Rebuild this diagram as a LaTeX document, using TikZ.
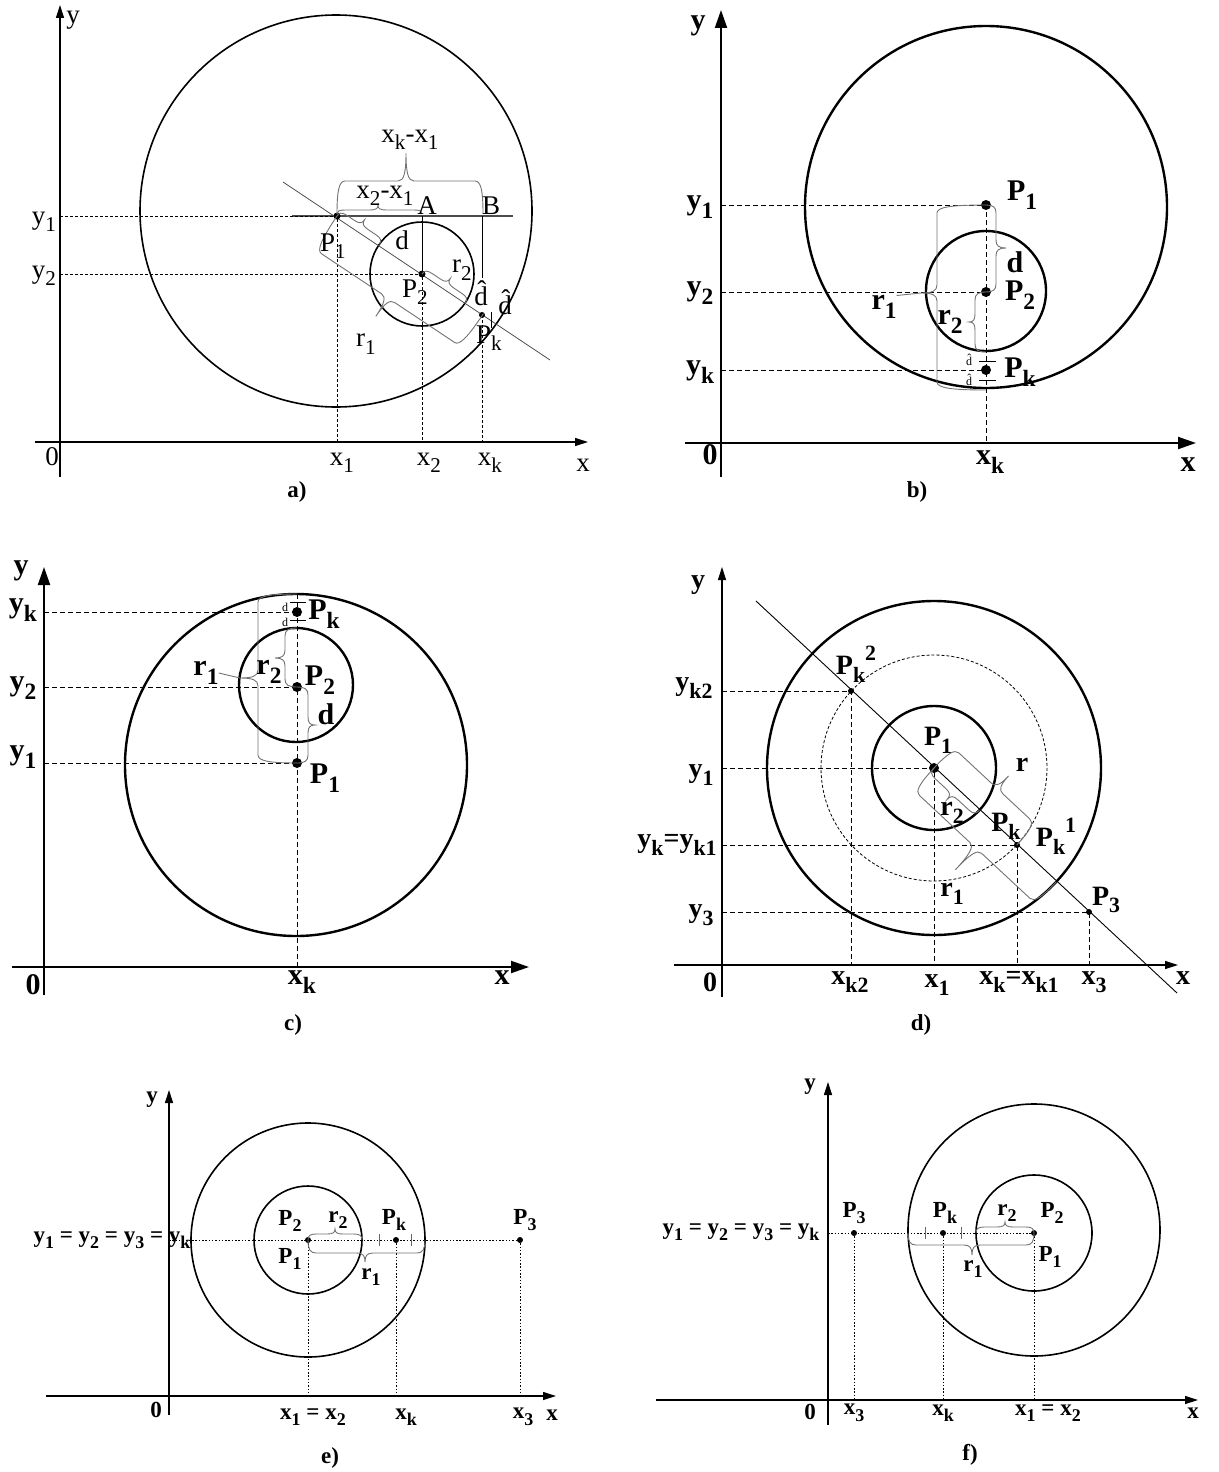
\documentclass[tikz,border=0pt]{standalone}
\usepackage{fontspec}
\setmainfont{Liberation Serif}
\usepackage{graphicx}
\usetikzlibrary{arrows.meta}

\newcommand{\lo}[1]{\raisebox{-0.28em}{\scalebox{0.78}{#1}}}
\newcommand{\hi}[1]{\raisebox{0.5em}{\scalebox{0.78}{#1}}}
% brace: length, tip position, side offset, tip offset
\newcommand{\brc}[4]{%
  \draw[brline] (0,0) .. controls (0,{0.7*(#3)}) and (2,#3) .. (8,#3)
    -- ({#2-8},#3) .. controls ({#2-2},#3) and (#2,{(#3)+0.3*((#4)-(#3))}) .. (#2,#4)
    .. controls (#2,{(#3)+0.3*((#4)-(#3))}) and ({#2+2},#3) .. ({#2+8},#3)
    -- ({#1-8},#3) .. controls ({#1-2},#3) and (#1,{0.7*(#3)}) .. (#1,0);}

\begin{document}
\begin{tikzpicture}[x=1pt, y=-1pt,
    axisline/.style={line width=1.2pt, -{Triangle[length=13pt, width=8pt]}},
    axisb/.style={line width=2pt, -{Triangle[length=18pt, width=12pt]}},
    guide/.style={line width=0.7pt, dash pattern=on 3pt off 2pt},
    guideb/.style={line width=1pt, dash pattern=on 5pt off 3pt},
    guidee/.style={line width=0.8pt, dash pattern=on 1.5pt off 1.8pt},
    ring/.style={line width=2.4pt},
    ringa/.style={line width=1.6pt},
    tickmark/.style={line width=0.9pt},
    brline/.style={draw=black!55, line width=0.9pt},
    lab/.style={inner sep=0pt, font=\fontsize{30}{32}\selectfont\bfseries},
    labd/.style={inner sep=0pt, font=\fontsize{28}{30}\selectfont\bfseries},
    laba/.style={inner sep=0pt, font=\fontsize{27}{29}\selectfont},
    labe/.style={inner sep=0pt, font=\fontsize{23}{25}\selectfont\bfseries},
    smalltxt/.style={inner sep=0pt, font=\fontsize{12}{13}\selectfont},
    panelcap/.style={inner sep=0pt, font=\fontsize{23}{25}\selectfont\bfseries}
  ]
\useasboundingbox (0,0) rectangle (1218,1472);

% a)
\coordinate (aP1) at (337,216);
\coordinate (aP2) at (422,274);
\coordinate (aPk) at (482,315);
\draw[ringa] (336,211) circle (196);
\draw[ringa] (aP2) circle (52);
\draw[axisline] (60,477) -- (60,5);
\draw[axisline] (35,442) -- (588,442);
\draw[line width=0.8pt, black!70] (283,182) -- (550,360);
\draw[line width=1.1pt, black!70] (292,216) -- (513,216);
\draw[line width=0.9pt] (422,216) -- (aP2);
\draw[line width=0.9pt] (482,216) -- (482,278);
\draw[guide] (60,216) -- (aP1) -- (337,442);
\draw[guide] (60,274) -- (aP2) -- (422,442);
\draw[guide] (aPk) -- (482,442);
\draw[tickmark] (491,312) -- (491,328);
\fill (aP1) circle (3.5);
\fill (aP2) circle (3.5);
\fill (aPk) circle (3);
\begin{scope}[shift={(337,214)}]
  \brc{146}{69}{-33}{-61}
  \brc{85}{41}{-4}{-9}
\end{scope}
\begin{scope}[shift={(aP1)}, rotate=-33.7]
  \brc{51}{25}{-6}{-12}
  \brc{176}{88}{40}{62}
\end{scope}
\begin{scope}[shift={(aP2)}, rotate=-33.7]
  \brc{52}{26}{-6}{-12}
\end{scope}
\node[laba] (a-y) at (73,20) {y};
\node[laba] (a-x) at (583,465) {x};
\node[laba] (a-0) at (52,457) {0};
\node[laba] (a-y1) at (44,222) {y\lo{1}};
\node[laba] (a-y2) at (44,276) {y\lo{2}};
\node[laba] (a-x1) at (342,463) {x\lo{1}};
\node[laba] (a-x2) at (429,463) {x\lo{2}};
\node[laba] (a-xk) at (490,463) {x\lo{k}};
\node[laba] (a-xkx1) at (410,140) {x\lo{k}-x\lo{1}};
\node[laba] (a-x2x1) at (385,196) {x\lo{2}-x\lo{1}};
\node[laba] (a-A) at (427,206) {A};
\node[laba] (a-B) at (491,206) {B};
\node[laba] (a-P1) at (333,246) {P\lo{1}};
\node[laba] (a-d) at (402,240) {d};
\node[laba] (a-r2) at (462,270) {r\lo{2}};
\node[laba] (a-P2) at (415,292) {P\lo{2}};
\node[laba] (a-dh1) at (481,293) {\^{d}};
\node[laba] (a-dh2) at (505,302) {\^{d}};
\node[laba] (a-Pk) at (489,338) {P\lo{k}};
\node[laba] (a-r1) at (366,344) {r\lo{1}};
\node[panelcap] (a-cap) at (297,492) {a)};

% b)
\coordinate (bP1) at (986,205);
\coordinate (bP2) at (986,292);
\coordinate (bPk) at (986,370);
\coordinate (b-r1tip) at (921,293);
\draw[ring] (986,207) circle (181);
\draw[ring] (986,291) circle (60);
\draw[axisb] (721,477) -- (721,10);
\draw[axisb] (685,443) -- (1196,443);
\draw[guideb] (721,205) -- (bP1) -- (986,443);
\draw[guideb] (721,292) -- (bP2);
\draw[guideb] (721,370) -- (bPk);
\draw[tickmark] (979,361) -- (996,361);
\draw[tickmark] (979,380) -- (996,380);
\fill (bP1) circle (5);
\fill (bP2) circle (5);
\fill (bPk) circle (5);
\begin{scope}[shift={(bP1)}, rotate=-90]
  \brc{185}{88}{49}{65}
  \brc{87}{43}{-10}{-20}
\end{scope}
\begin{scope}[shift={(bP2)}, rotate=-90]
  \brc{60}{30}{11}{17}
\end{scope}
\node[lab] (b-y) at (698,26) {y};
\node[lab] (b-x) at (1188,465) {x};
\node[lab] (b-0) at (710,455) {0};
\node[lab] (b-y1) at (700,207) {y\lo{1}};
\node[lab] (b-y2) at (700,293) {y\lo{2}};
\node[lab] (b-yk) at (700,372) {y\lo{k}};
\node[lab] (b-xk) at (990,462) {x\lo{k}};
\node[lab] (b-P1) at (1022,195) {P\lo{1}};
\node[lab] (b-P2) at (1020,295) {P\lo{2}};
\node[lab] (b-Pk) at (1020,372) {P\lo{k}};
\node[lab] (b-d) at (1015,262) {d};
\node[lab] (b-r1) at (884,307) {r\lo{1}};
\node[lab] (b-r2) at (950,322) {r\lo{2}};
\node[smalltxt] (b-dh1) at (969,360) {\^{d}};
\node[smalltxt] (b-dh2) at (969,380) {\^{d}};
\draw[brline] (b-r1.north east) -- (b-r1tip);
\node[panelcap] (b-cap) at (917,492) {b)};

% c)
\coordinate (cP1) at (297,763);
\coordinate (cP2) at (297,687);
\coordinate (cPk) at (297,612);
\coordinate (c-r1tip) at (240,678);
\draw[ring] (296,765) circle (171);
\draw[ring] (296,685) circle (57);
\draw[axisb] (44,995) -- (44,567);
\draw[axisb] (12,967) -- (529,967);
\draw[guideb] (44,612) -- (cPk);
\draw[guideb] (44,687) -- (cP2);
\draw[guideb] (44,763) -- (cP1);
\draw[guideb] (297,594) -- (297,967);
\draw[tickmark] (290,602) -- (306,602);
\draw[tickmark] (290,620) -- (306,620);
\fill (cP1) circle (5);
\fill (cP2) circle (5);
\fill (cPk) circle (5);
\begin{scope}[shift={(297,594)}, rotate=-90]
  \brc{169}{84}{39}{57}
\end{scope}
\begin{scope}[shift={(297,628)}, rotate=-90]
  \brc{59}{30}{12}{22}
\end{scope}
\begin{scope}[shift={(cP2)}, rotate=-90]
  \brc{76}{38}{-11}{-18}
\end{scope}
\node[lab] (c-y) at (21,571) {y};
\node[lab] (c-x) at (502,978) {x};
\node[lab] (c-0) at (33,985) {0};
\node[lab] (c-yk) at (23,610) {y\lo{k}};
\node[lab] (c-y2) at (23,688) {y\lo{2}};
\node[lab] (c-y1) at (23,757) {y\lo{1}};
\node[lab] (c-xk) at (302,982) {x\lo{k}};
\node[lab] (c-Pk) at (324,614) {P\lo{k}};
\node[lab] (c-P2) at (320,680) {P\lo{2}};
\node[lab] (c-P1) at (325,778) {P\lo{1}};
\node[lab] (c-d) at (326,714) {d};
\node[lab] (c-r1) at (206,673) {r\lo{1}};
\node[lab] (c-r2) at (269,672) {r\lo{2}};
\node[smalltxt] (c-d1) at (285,607) {d};
\node[smalltxt] (c-d2) at (285,622) {d};
\draw[brline] (c-r1.east) -- (c-r1tip);
\node[panelcap] (c-cap) at (293,1025) {c)};

% d)
\coordinate (dP1) at (934,768);
\coordinate (dPk2) at (851,691);
\coordinate (dPk) at (1017,845);
\coordinate (dP3) at (1089,912);
\draw[ring] (dP1) circle (167);
\draw[ring] (dP1) circle (62);
\draw[line width=0.8pt, dash pattern=on 3pt off 2pt] (dP1) circle (113);
\draw[axisline] (722,997) -- (722,567);
\draw[axisline] (674,965) -- (1178,965);
\draw[line width=0.9pt] (756,601) -- (1177,993);
\draw[guideb] (722,691) -- (dPk2) -- (851,965);
\draw[guideb] (722,768) -- (dP1) -- (934,965);
\draw[guideb] (722,845) -- (dPk) -- (1017,965);
\draw[guideb] (722,912) -- (dP3) -- (1089,965);
\fill (dP1) circle (5);
\fill (dPk2) circle (3);
\fill (dPk) circle (3);
\fill (dP3) circle (3);
\begin{scope}[shift={(dP1)}, rotate=-42.96]
  \brc{167}{85}{30}{60}
  \brc{62}{31}{7}{14}
  \brc{113}{60}{-28}{-45}
\end{scope}
\node[labd] (d-y) at (698,585) {y};
\node[labd] (d-yk2) at (694,688) {y\lo{k2}};
\node[labd] (d-y1) at (701,775) {y\lo{1}};
\node[labd] (d-yk) at (677,845) {y\lo{k}=y\lo{k1}};
\node[labd] (d-y3) at (701,915) {y\lo{3}};
\node[labd] (d-0) at (710,982) {0};
\node[labd] (d-xk2) at (850,982) {x\lo{k2}};
\node[labd] (d-x1) at (937,985) {x\lo{1}};
\node[labd] (d-xk) at (1019,982) {x\lo{k}=x\lo{k1}};
\node[labd] (d-x3) at (1094,982) {x\lo{3}};
\node[labd] (d-x) at (1183,978) {x};
\node[labd] (d-Pk2) at (856,664) {P\lo{k}\hi{2}};
\node[labd] (d-P1) at (938,740) {P\lo{1}};
\node[labd] (d-r) at (1022,765) {r};
\node[labd] (d-r2) at (952,813) {r\lo{2}};
\node[labd] (d-Pk) at (1006,826) {P\lo{k}};
\node[labd] (d-Pk1) at (1056,836) {P\lo{k}\hi{1}};
\node[labd] (d-r1) at (952,894) {r\lo{1}};
\node[labd] (d-P3) at (1106,900) {P\lo{3}};
\node[panelcap] (d-cap) at (921,1025) {d)};

% e)
\coordinate (eP1) at (308,1240);
\coordinate (ePk) at (396,1240);
\coordinate (eP3) at (520,1240);
\draw[ringa] (eP1) circle (117);
\draw[ringa] (eP1) circle (54);
\draw[axisline] (169,1415) -- (169,1090);
\draw[axisline] (46,1396) -- (556,1396);
\draw[guidee] (169,1240) -- (eP3);
\draw[guidee] (eP1) -- (308,1396);
\draw[guidee] (ePk) -- (396,1396);
\draw[guidee] (eP3) -- (520,1396);
\draw[tickmark, black!60] (379,1234) -- (379,1246);
\draw[tickmark, black!60] (411,1234) -- (411,1246);
\fill (eP1) circle (3);
\fill (ePk) circle (3);
\fill (eP3) circle (3);
\begin{scope}[shift={(eP1)}]
  \brc{54}{27}{-6}{-11}
  \brc{117}{57}{13}{22}
\end{scope}
\node[labe] (e-yyy) at (112,1240) {y\lo{1} = y\lo{2} = y\lo{3} = y\lo{k}};
\node[labe] (e-P2) at (290,1221) {P\lo{2}};
\node[labe] (e-r2) at (338,1220) {r\lo{2}};
\node[labe] (e-Pk) at (394,1220) {P\lo{k}};
\node[labe] (e-P3) at (525,1220) {P\lo{3}};
\node[labe] (e-P1) at (290,1259) {P\lo{1}};
\node[labe] (e-r1) at (371,1277) {r\lo{1}};
\node[labe] (e-x12) at (313,1417) {x\lo{1} = x\lo{2}};
\node[labe] (e-xk) at (406,1417) {x\lo{k}};
\node[labe] (e-x3) at (523,1417) {x\lo{3}};
\node[labe] (e-x) at (552,1415) {x};
\node[labe] (e-0) at (156,1410) {0};
\node[labe] (e-y) at (152,1100) {y};
\node[panelcap] (e-cap) at (330,1458) {e)};

% f)
\coordinate (fP1) at (1034,1233);
\coordinate (fPk) at (943,1233);
\coordinate (fP3) at (854,1233);
\draw[ringa] (1034,1230) circle (126);
\draw[ringa] (fP1) circle (58);
\draw[axisline] (828,1425) -- (828,1082);
\draw[axisline] (656,1400) -- (1198,1400);
\draw[guidee] (828,1233) -- (fP1);
\draw[guidee] (fP3) -- (854,1400);
\draw[guidee] (fPk) -- (943,1400);
\draw[guidee] (fP1) -- (1034,1400);
\draw[tickmark, black!60] (925,1227) -- (925,1239);
\draw[tickmark, black!60] (961,1227) -- (961,1239);
\fill (fP1) circle (3);
\fill (fPk) circle (3);
\fill (fP3) circle (3);
\begin{scope}[shift={(976,1233)}]
  \brc{58}{29}{-6}{-11}
\end{scope}
\begin{scope}[shift={(908,1233)}]
  \brc{126}{64}{12}{22}
\end{scope}
\node[labe] (f-yyy) at (741,1232) {y\lo{1} = y\lo{2} = y\lo{3} = y\lo{k}};
\node[labe] (f-P3) at (854,1213) {P\lo{3}};
\node[labe] (f-Pk) at (945,1213) {P\lo{k}};
\node[labe] (f-r2) at (1007,1213) {r\lo{2}};
\node[labe] (f-P2) at (1052,1213) {P\lo{2}};
\node[labe] (f-P1) at (1050,1257) {P\lo{1}};
\node[labe] (f-r1) at (973,1269) {r\lo{1}};
\node[labe] (f-x3) at (854,1413) {x\lo{3}};
\node[labe] (f-xk) at (943,1413) {x\lo{k}};
\node[labe] (f-x12) at (1048,1413) {x\lo{1} = x\lo{2}};
\node[labe] (f-0) at (810,1412) {0};
\node[labe] (f-x) at (1193,1413) {x};
\node[labe] (f-y) at (810,1087) {y};
\node[panelcap] (f-cap) at (970,1455) {f)};
\end{tikzpicture}
\end{document}
